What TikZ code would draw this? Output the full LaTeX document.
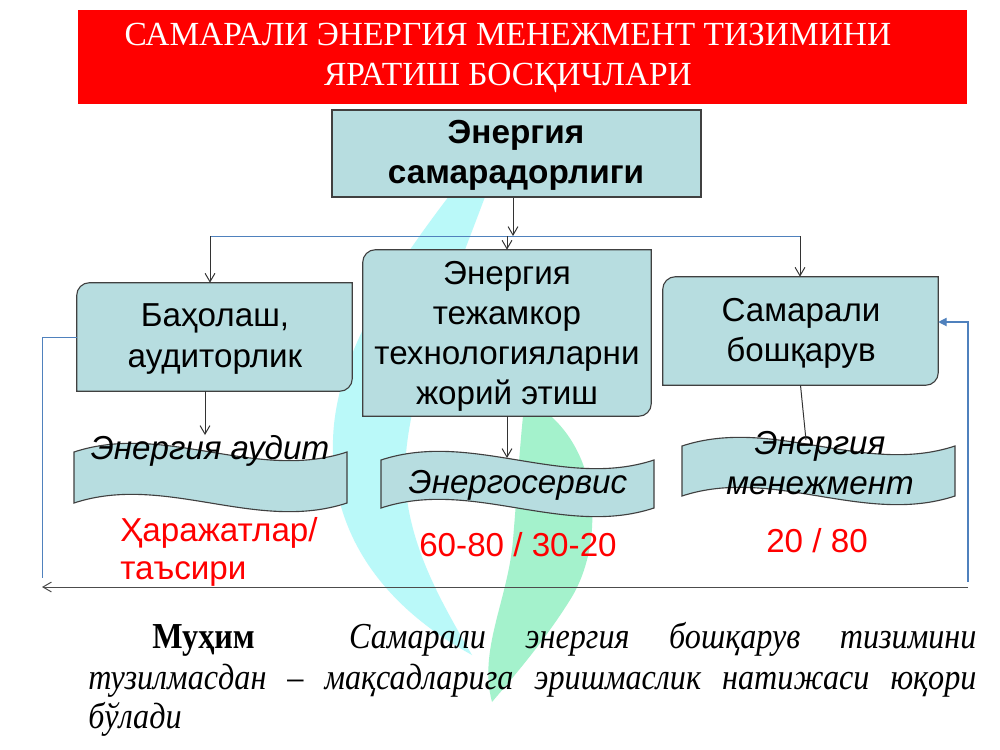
\documentclass[tikz,border=0pt]{standalone}
\usepackage{fontspec}
\setmainfont{Liberation Serif}
\newfontfamily\arial{Liberation Sans}
\newfontfamily\condserif[FakeStretch=0.88]{Liberation Serif}
\newfontfamily\titleserif[FakeStretch=0.99]{Liberation Serif}
\usetikzlibrary{arrows.meta,fit,calc}
\definecolor{boxfill}{RGB}{183,221,224}
\definecolor{linkblue}{RGB}{79,129,189}
\definecolor{logocyan}{RGB}{186,249,249}
\definecolor{logogreen}{RGB}{164,242,204}
\newcommand\diagbox[2][9pt]{%
  \draw[shapeline, fill=boxfill] ([yshift=-#1]#2.north west) arc[start angle=180,end angle=90,radius=#1]
    -- (#2.north east) -- ([yshift=#1]#2.south east) arc[start angle=0,end angle=-90,radius=#1]
    -- (#2.south west) -- cycle;}
\newcommand\wavepath[5]{%
  \draw[shapeline, fill=boxfill] (#1,#3) .. controls ({#1+(#2-#1)/3},{#3-#5}) and ({#1+2*(#2-#1)/3},{#3+#5}) .. (#2,#3)
    -- (#2,#4) .. controls ({#1+2*(#2-#1)/3},{#4+#5}) and ({#1+(#2-#1)/3},{#4-#5}) .. (#1,#4) -- cycle;}
\begin{document}
\begin{tikzpicture}[x=0.025cm,y=-0.025cm,
  shapeline/.style={draw=black!75, line width=0.8pt},
  area/.style={draw=none, inner sep=0pt},
  boxtxt/.style={inner sep=0pt, align=center, font=\arial\fontsize{23.6}{28.5}\selectfont},
  wavetxt/.style={inner sep=0pt, align=center, font=\arial\itshape\fontsize{23.6}{28.5}\selectfont},
  redtxt/.style={inner sep=0pt, text=red, font=\arial\fontsize{23.6}{28}\selectfont},
  arr/.style={draw=black!80, line width=0.7pt, -{Straight Barb[length=6pt,width=7pt]}},
  thinline/.style={draw=black!80, line width=0.7pt},
  blueline/.style={draw=linkblue, line width=0.7pt},
  grayarr/.style={draw=black!70, line width=0.7pt, -{Straight Barb[length=6pt,width=7pt]}},
  bluearr/.style={draw=linkblue, line width=0.8pt, -{Triangle[length=6pt,width=6pt]}},
  notetxt/.style={inner sep=0pt, anchor=base west, font=\condserif\fontsize{26}{29}\selectfont}]
\useasboundingbox (0,0) rectangle (1000,750);
\fill[white] (0,0) rectangle (1000,750);
% background logo
\fill[logocyan] (515,112) .. controls (430,220) and (336,330) .. (333,440)
  .. controls (330,540) and (390,610) .. (472,655)
  .. controls (440,600) and (405,540) .. (405,470)
  .. controls (408,370) and (470,250) .. (515,112) -- cycle;
\fill[logogreen] (525,398) .. controls (605,440) and (605,545) .. (570,600)
  .. controls (545,640) and (515,675) .. (492,702)
  .. controls (478,650) and (508,600) .. (513,540)
  .. controls (518,480) and (520,440) .. (525,398) -- cycle;
% title
\node[area, fill=red, fit={(78,10) (967,104)}] (titlebox) {};
\node[inner sep=0pt, text=white, align=center, font=\titleserif\fontsize{24}{28}\selectfont]
  (title) at (508,58) {САМАРАЛИ ЭНЕРГИЯ МЕНЕЖМЕНТ ТИЗИМИНИ\\ЯРАТИШ БОСҚИЧЛАРИ};
% top box
\node[shapeline, fill=boxfill, inner sep=0pt, fit={(332,110) (701,197)}] (top) {};
\node[inner sep=0pt, align=center, font=\arial\bfseries\fontsize{23.7}{28.5}\selectfont]
  (topt) at (516,155) {Энергия\\самарадорлиги};
% three boxes
\node[area, fit={(77,283) (352,391)}] (baho) {};
\node[area, fit={(363,250) (651,416)}] (mid) {};
\node[area, fit={(663,277) (938,385)}] (samb) {};
\diagbox{baho}
\diagbox{mid}
\diagbox{samb}
\node[boxtxt] (bahot) at (215,339) {Баҳолаш,\\аудиторлик};
\node[boxtxt] (midt) at (507,336) {Энергия\\тежамкор\\технологияларни\\жорий этиш};
\node[boxtxt] (sambt) at (801,333) {Самарали\\бошқарув};
% waves
\wavepath{74}{347}{452}{503}{30}
\wavepath{381}{654}{460}{508}{30}
\wavepath{682}{955}{446}{496}{30}
\node[wavetxt] (waud) at (210,451) {Энергия аудит};
\node[wavetxt] (wserv) at (518,485) {Энергосервис};
\node[wavetxt] (wmen) at (820,463) {Энергия\\менежмент};
% red texts
\node[redtxt, anchor=base west] (rt1) at (120,541) {Ҳаражатлар/};
\node[redtxt, anchor=base west] (rt2) at (120,579) {таъсири};
\node[redtxt] (r60) at (518,545) {60-80 / 30-20};
\node[redtxt] (r20) at (817,541) {20 / 80};
% connectors
\coordinate (hl) at (210,236);
\coordinate (hr) at (800,236);
\draw[blueline] (hl) -- (hr);
\draw[arr] (top.south -| 513,0) -- (513,236);
\draw[arr] (mid.north |- hl) -- (mid.north);
\draw[arr] (hl) -- (hl |- baho.north);
\draw[arr] (hr) -- (hr |- samb.north);
\coordinate (waudtop) at (205,435);
\coordinate (wservtop) at (507,458);
\coordinate (wmentop) at (806,440);
\draw[arr] (baho.south -| waudtop) -- (waudtop);
\draw[arr] (mid.south -| wservtop) -- (wservtop);
\draw[thinline] (samb.south) -- (wmentop);
% feedback loop
\coordinate (fbL) at (42,337);
\coordinate (fbLb) at (42,578);
\coordinate (fbBR) at (968,587);
\coordinate (fbBL) at (42,587);
\coordinate (fbRb) at (968,582);
\coordinate (fbR) at (968,322);
\draw[blueline] (baho.west) -- (fbL) -- (fbLb);
\draw[grayarr] (fbBR) -- (fbBL);
\draw[bluearr] (fbRb) -- (fbR) -- (fbR -| samb.east);
% note
\node[notetxt] (note1) at (152,648) {\makebox[20.6cm][l]{\textbf{Муҳим}\hspace*{1.5em}\hfill\textit{Самарали}\hfill\textit{энергия}\hfill\textit{бошқарув}\hfill\textit{тизимини}}};
\node[notetxt] (note2) at (88,689) {\makebox[22.2cm][l]{\itshape тузилмасдан\hfill –\hfill мақсадларига\hfill эришмаслик\hfill натижаси\hfill юқори}};
\node[notetxt] (note3) at (88,728) {\itshape бўлади};
\end{tikzpicture}
\end{document}
